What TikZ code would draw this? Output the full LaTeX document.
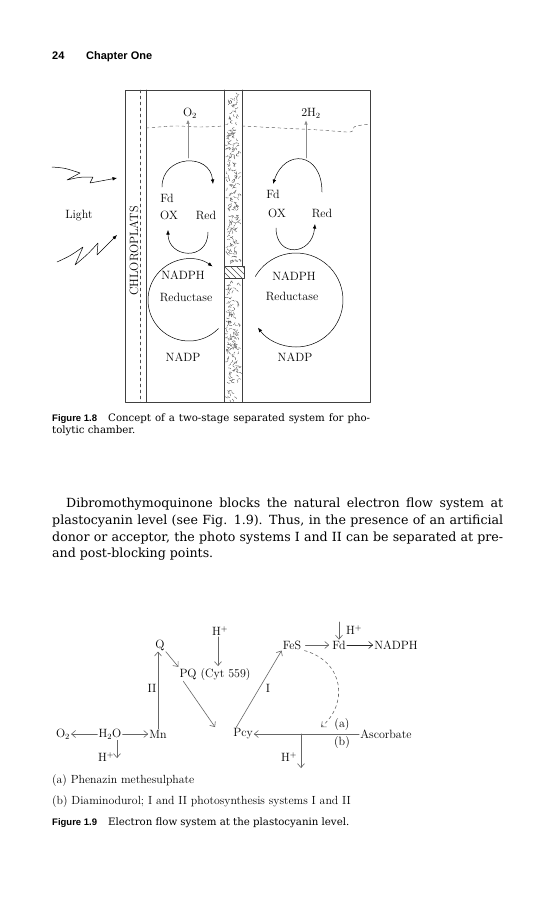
\documentclass[tikz,border=0pt]{standalone}
\usepackage{fontspec}
\newfontfamily\bodyfont{DejaVu Serif}
\newfontfamily\capfont{Liberation Sans}
\usetikzlibrary{arrows.meta}

\begin{document}
\begin{tikzpicture}[x=1pt,y=-1pt,line join=round,line cap=round,>={Latex[length=4.5pt,width=3.6pt]}]
	\tikzset{every node/.style={font=\fontsize{12}{14}\selectfont,inner sep=1pt},
		headtxt/.style={anchor=base west,inner sep=0pt,font=\capfont\bfseries\fontsize{11}{13}\selectfont},
		figtag/.style={anchor=base west,inner sep=0pt,font=\capfont\bfseries\fontsize{9.5}{11}\selectfont},
		captxt/.style={anchor=base west,inner sep=0pt,font=\bodyfont\fontsize{10.2}{12}\selectfont},
		legtxt/.style={anchor=base west,inner sep=0pt,font=\fontsize{11.8}{13}\selectfont},
		bodyline/.style={anchor=base west,inner sep=0pt,font=\bodyfont\fontsize{12.6}{17}\selectfont},
		wall/.style={black!75,line width=.6pt},
		porous/.style={black!70,line width=.35pt,densely dashed},
		rise/.style={->,black!45,line width=.9pt},
		cyc/.style={->,line width=.5pt},
		barb/.style={-{Straight Barb[length=4pt,width=7pt]},black!60,line width=.6pt}}
	\fill[white] (0,0) rectangle (553,900);
	\useasboundingbox (0,0) rectangle (553,900);
	% running head
	\node[headtxt] (pgno) at (52,59) {24};
	\node[headtxt] (chap) at (86,59) {Chapter One};
	% ---------------- Figure 1.8
	\draw[wall] (125,90) rectangle (370,402);
	\draw[wall] (146,90) -- (146,402) (224,90) -- (224,402) (242,90) -- (242,402);
	\draw[black!70,dashed,line width=.45pt] (140,90) -- (140,402);
	\node[rotate=90] (chlo) at (134,251) {CHLOROPLATS};
	\draw[black!65,dashed,line width=.45pt] plot[smooth] coordinates{(146,128) (175,126) (200,127) (224,126)};
	\draw[black!65,dashed,line width=.45pt] plot[smooth] coordinates{(242,126) (280,128) (320,130) (350,132) (354,127) (362,125) (370,124)};
	% packed column
	\pgfmathsetseed{24}
	\foreach \i in {1,...,360}{
		\pgfmathsetmacro\px{227+12*rnd}
		\pgfmathsetmacro\py{ifthenelse(\i<212,94+168*rnd,282+118*rnd)}
		\pgfmathsetmacro\pa{360*rnd}
		\draw[porous] (\px,\py) arc[start angle=\pa,delta angle=130,radius=2.2];
	}
	\draw[wall,fill=white] (224,266) rectangle (244,278);
	\begin{scope}
		\clip (224,266) rectangle (244,278);
		\foreach \k in {-12,-6,...,24} \draw[black!70,line width=.45pt] (224+\k,266) -- ++(12,12);
	\end{scope}
	% light
	\node (light) at (79,216) {Light};
	\draw[->,line width=.5pt] (52,167) .. controls (65,168) .. (80,173) -- (67,180) .. controls (80,177) .. (93,177) -- (90,183) -- (117,178);
	\draw[->,line width=.5pt] (57,262) .. controls (70,256) .. (83,247) -- (75,265) .. controls (88,254) .. (98,243) -- (97,255) -- (117,235);
	% left chamber
	\node (o2a) at (190,113) {O$_2$};
	\node (fda) at (167,198) {Fd};
	\node (oxa) at (169,215) {OX};
	\node (reda) at (206,215) {Red};
	\node (nadpha) at (183,275) {NADPH};
	\node (reda2) at (186,297) {Reductase};
	\node (nadpa) at (183,357) {NADP};
	\draw[rise] (188,158) -- (o2a.south -| 188,0);
	\draw[cyc] (162,187) .. controls (162,155) and (210,152) .. (213,184);
	\draw[cyc] (208,232) .. controls (208,262) and (168,258) .. (168,230);
	\draw[cyc] (189,300) ++(44:41) arc[start angle=44,end angle=305,radius=41];
	% right chamber
	\node (h2b) at (311,113) {2H$_2$};
	\node (fdb) at (273,194) {Fd};
	\node (oxb) at (277,213) {OX};
	\node (redb) at (322,213) {Red};
	\node (nadphb) at (294,276) {NADPH};
	\node (redb2) at (292,296) {Reductase};
	\node (nadpb) at (295,357) {NADP};
	\draw[rise] (306,158) -- (306,120);
	\draw[cyc] (322,192) .. controls (322,152) and (285,148) .. (273,184);
	\draw[cyc] (276,228) .. controls (276,258) and (312,256) .. (315,224);
	\draw[cyc] (296,300) ++(210:47) arc[start angle=210,end angle=504,radius=47];
	% caption 1.8
	\node[figtag] (tag8) at (52,421) {Figure 1.8};
	\node[captxt] (cap8) at (108,421) {\makebox[262pt][s]{Concept of a two-stage separated system for pho-}};
	\node[captxt] (cap8b) at (52,433) {tolytic chamber.};
	% body text
	\node[bodyline] (par1) at (66,507) {\makebox[437pt][s]{Dibromothymoquinone blocks the natural electron flow system at}};
	\node[bodyline] (par2) at (52,524) {\makebox[451pt][s]{plastocyanin level (see Fig. 1.9). Thus, in the presence of an artificial}};
	\node[bodyline] (par3) at (52,541) {\makebox[451pt][s]{donor or acceptor, the photo systems I and II can be separated at pre-}};
	\node[bodyline] (par4) at (52,557) {and post-blocking points.};
	% ---------------- Figure 1.9
	\node (q) at (160,645) {Q};
	\node (hpq) at (220,631) {H$^+$};
	\node (pq) at (215,674) {PQ (Cyt 559)};
	\node (o2) at (63,734) {O$_2$};
	\node (h2o) at (110,734) {H$_2$O};
	\node (mn) at (158,734) {Mn};
	\node (hw) at (106,757) {H$^+$};
	\node (pcy) at (243,734) {Pcy};
	\node (fes) at (292,645) {FeS};
	\node (fd) at (339,645) {Fd};
	\node (nadph) at (396,645) {NADPH};
	\node (hfd) at (354,630) {H$^+$};
	\node (asc) at (386,734) {Ascorbate};
	\node (hpcy) at (289,757) {H$^+$};
	\node (II) at (152,688) {II};
	\node (I) at (268,688) {I};
	\node (a) at (342,724) {(a)};
	\node (b) at (342,742) {(b)};
	\coordinate (pqend) at (215,727);
	\coordinate (dashend) at (321,727);
	\coordinate (hpcyend) at (301,768);
	\coordinate (hwend) at (117,758);
	\draw[barb] (h2o) -- (o2);
	\draw[barb] (h2o) -- (mn);
	\draw[barb] (hwend |- h2o.south) -- (hwend);
	\draw[barb] (mn.north) -- (mn.north |- q.south);
	\draw[barb] (q.south east) -- (pq.north west);
	\draw[barb] (hpq.south -| 218,0) -- (218,666);
	\draw[barb] ([xshift=5pt]pq.south west) -- (pqend);
	\draw[barb] ([xshift=4pt]pcy.north west) -- (fes.south west);
	\draw[barb] ([xshift=3pt]fes.east) -- ([xshift=-2pt]fd.west);
	\draw[barb,black!85] (fd) -- (nadph);
	\draw[barb] (fd.north |- 0,622) -- (fd.north);
	\draw[barb] (asc) -- (pcy);
	\draw[barb] (hpcyend |- asc) -- (hpcyend);
	\draw[barb,dashed] ([xshift=2pt]fes.south east) .. controls (345,662) and (348,705) .. (dashend);
	% legend and caption 1.9
	\node[legtxt] (lega) at (52,783) {(a) Phenazin methesulphate};
	\node[legtxt] (legb) at (52,804) {(b) Diaminodurol; I and II photosynthesis systems I and II};
	\node[figtag] (tag9) at (52,825) {Figure 1.9};
	\node[captxt] (cap9) at (108,825) {Electron flow system at the plastocyanin level.};
\end{tikzpicture}
\end{document}
